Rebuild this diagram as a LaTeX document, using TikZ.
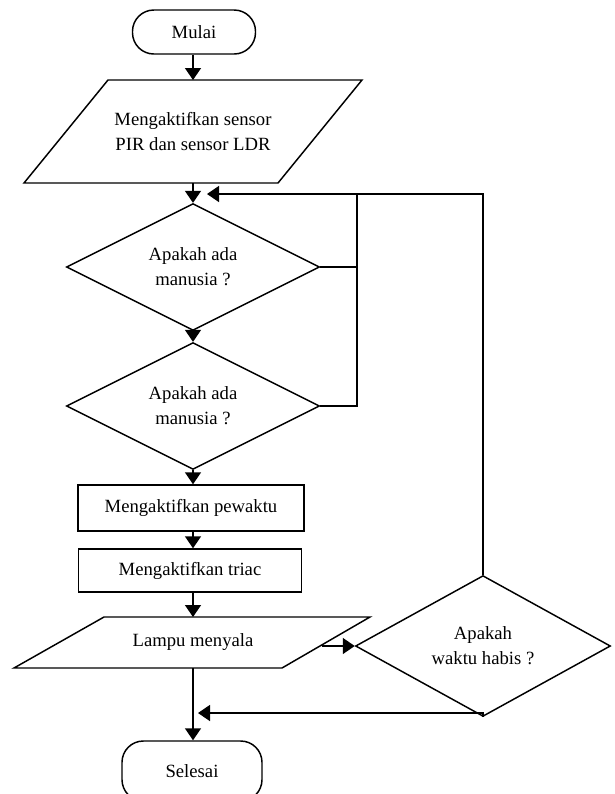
\documentclass[tikz,border=0pt]{standalone}
\usepackage{fontspec}
\setmainfont{Liberation Serif}
\usetikzlibrary{shapes.geometric,arrows.meta}
\begin{document}
\begin{tikzpicture}[x=0.75pt,y=-0.75pt,
  every node/.style={font=\fontsize{14}{18.75}\selectfont, align=center},
  line/.style={line width=1.1pt},
  arr/.style={line width=1.1pt, -{Triangle[length=9pt,width=12pt]}},
  term/.style={draw, line width=1.1pt, rounded corners=16pt, minimum width=92.25pt, minimum height=33pt, inner sep=0pt},
  dec/.style={draw, line width=1.1pt, diamond, inner sep=0pt, minimum width=189.75pt, minimum height=90pt},
  proc/.style={draw, line width=1.1pt, rectangle, inner sep=0pt},
  io/.style={draw, line width=1.1pt, line join=miter}
]
\useasboundingbox (0,0) rectangle (615,794);
\clip (0,0) rectangle (615,794);

\node[term] (mulai) at (194,32) {Mulai};

\draw[io] (108,80) -- (362,80) -- (278,183) -- (24,183) -- cycle;
\node (p1) at (193,131.5) {Mengaktifkan sensor\\PIR dan sensor LDR};
\coordinate (p1top) at (193,80);
\coordinate (p1bot) at (193,183);

\node[dec] (d1) at (193,267) {Apakah ada\\manusia ?};
\node[dec] (d2) at (193,406) {Apakah ada\\manusia ?};

\node[proc, minimum width=169.5pt, minimum height=34.5pt] (r1) at (191,508) {Mengaktifkan pewaktu};
\node[proc, minimum width=167.25pt, minimum height=32.25pt] (r2) at (190,570.5) {Mengaktifkan triac};

\draw[io] (104,617) -- (370,617) -- (282,668) -- (14,668) -- cycle;
\node (p2) at (193,642.5) {Lampu menyala};
\coordinate (p2top) at (193,617);
\coordinate (p2bot) at (193,668);
\coordinate (p2r) at (322,646);

\node[dec, minimum width=191.25pt, minimum height=88.5pt] (d3) at (483,646) {Apakah\\waktu habis ?};

\node[term, minimum width=105pt, minimum height=45pt] (selesai) at (192,771) {Selesai};

\coordinate (fb) at (207,194);
\coordinate (j1) at (357,194);
\coordinate (rt) at (198,713);

\draw[arr] (mulai.south -| p1top) -- (p1top);
\draw[arr] (p1bot) -- (d1.north);
\draw[arr] (d1.south) -- (d2.north);
\draw[arr] (d2.south) -- (d2.south |- r1.north);
\draw[arr] (d2.south |- r1.south) -- (d2.south |- r2.north);
\draw[arr] (d2.south |- r2.south) -- (p2top);
\draw[arr] (p2bot) -- (selesai.north -| p2bot);
\draw[arr] (p2r) -- (d3.west);
\draw[line] (d1.east) -| (j1);
\draw[line] (d2.east) -| (j1);
\draw[arr] (d3.north) |- (fb);
\draw[arr] (d3.south) |- (rt);
\end{tikzpicture}
\end{document}
